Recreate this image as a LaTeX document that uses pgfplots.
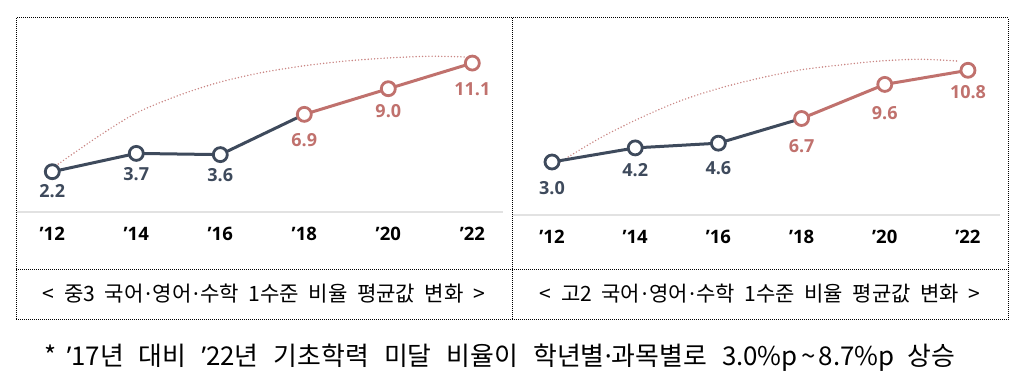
\documentclass[border=0pt]{standalone}
\usepackage{pgfplots}
\pgfplotsset{compat=1.18}
\usepackage{fontspec}
\setmainfont{Noto Sans CJK KR}
\newfontfamily\numfont{Open Sans}
\newfontfamily\latfont{Noto Sans}
\definecolor{navy}{HTML}{3E4A5C}
\definecolor{rose}{HTML}{C0716D}
\definecolor{arc}{HTML}{C98583}
\definecolor{base}{HTML}{E2E2E2}

\pgfplotstableread{
x y dy
0 2.2 19
1 3.7 21
2 3.6 20
}\leftnavy
\pgfplotstableread{
x y dy
3 6.9 26
4 9.0 22
5 11.1 26
}\leftrose
\pgfplotstableread{
x y dy
0 3.0 26
1 4.2 22
2 4.6 25
}\rightnavy
\pgfplotstableread{
x y dy
3 6.7 28
4 9.6 29
5 10.8 22
}\rightrose

\pgfplotsset{
  panel/.style={
    anchor=south west, scale only axis, clip=false,
    axis x line=bottom, axis y line=none,
    axis line style={draw=base, line width=1.5pt, -},
    xtick={0,...,5},
    xticklabels={’12,’14,’16,’18,’20,’22},
    major tick length=0pt,
    ytick=\empty,
    xticklabel style={anchor=center, yshift=-22pt, text=black,
      font=\numfont\bfseries\fontsize{18.5}{18.5}\selectfont},
  },
  vlabels/.style={
    draw=none, mark=none,
    point meta=y,
    visualization depends on={\thisrow{dy} \as \dy},
    nodes near coords={\pgfmathprintnumber[fixed,fixed zerofill,precision=1,assume math mode=true]{\pgfplotspointmeta}},
    nodes near coords style={anchor=center, yshift=-\dy pt, text=#1,
      font=\numfont\bfseries\fontsize{18}{18}\selectfont},
  },
  arcline/.style={color=arc, line width=1.6pt, line cap=round,
    dash pattern=on 0pt off 3.2pt, smooth, mark=none},
  navyline/.style={color=navy, line width=3pt, mark=*, mark size=7pt,
    mark options={fill=white, line width=2.8pt, draw=navy}},
  roseline/.style={color=rose, line width=3pt, mark=*, mark size=7pt,
    mark options={fill=white, line width=2.8pt, draw=rose}},
}
\newcommand\md{\kern1.5pt{\latfont ·}\kern1.5pt}
\newcommand\ap{{\latfont ’}}

\begin{document}
\begin{tikzpicture}[x=1pt,y=1pt]
\path (0,0) rectangle (1026,383);
% table borders
\begin{scope}[line width=1pt, dash pattern=on 1pt off 1pt]
\draw (16,365) rectangle (1008,63);
\draw (512,365) -- (512,63);
\draw (16,113) -- (1008,113);
\end{scope}

% left panel
\begin{axis}[panel, at={(17pt,171pt)}, width=486.4pt, height=182pt,
  xmin=-0.42, xmax=5.37, ymin=-1.1, ymax=13.81]
\addplot[arcline] coordinates {(0.071,2.83) (0.571,5.20) (1.012,7.05) (1.524,8.50) (2.0,9.55) (2.5,10.33) (3.0,10.88) (3.5,11.27) (4.0,11.52) (4.5,11.66) (4.917,11.60)};
\addplot[navyline, mark indices={1,2,3}] coordinates {(0,2.2) (1,3.7) (2,3.6) (3,6.9)};
\addplot[roseline] coordinates {(3,6.9) (4,9.0) (5,11.1)};
\addplot[vlabels=navy] table {\leftnavy};
\addplot[vlabels=rose] table {\leftrose};
\end{axis}

% right panel
\begin{axis}[panel, at={(513pt,168pt)}, width=487pt, height=185pt,
  xmin=-0.469, xmax=5.385, ymin=-1.51, ymax=14.23]
\addplot[arcline] coordinates {(0.096,3.00) (0.577,5.04) (1.058,6.74) (1.538,8.19) (2.019,9.29) (2.5,10.14) (2.981,10.83) (3.462,11.25) (3.942,11.59) (4.423,11.74) (4.868,11.59)};
\addplot[navyline, mark indices={1,2,3}] coordinates {(0,3.0) (1,4.2) (2,4.6) (3,6.7)};
\addplot[roseline] coordinates {(3,6.7) (4,9.6) (5,10.8)};
\addplot[vlabels=navy] table {\rightnavy};
\addplot[vlabels=rose] table {\rightrose};
\end{axis}

% captions
\node[anchor=base, inner sep=0pt] at (264,81) {\resizebox{442pt}{!}{\fontsize{20}{20}\selectfont\spaceskip=9pt\relax < 중3 국어\md 영어\md 수학 1수준 비율 평균값 변화 >}};
\node[anchor=base, inner sep=0pt] at (760,81) {\resizebox{440pt}{!}{\fontsize{20}{20}\selectfont\spaceskip=9pt\relax < 고2 국어\md 영어\md 수학 1수준 비율 평균값 변화 >}};
% note
\node[anchor=base, inner sep=0pt] at (500,17) {\resizebox{910pt}{!}{\fontsize{24}{24}\selectfont\spaceskip=14pt\relax *\kern9pt\ap 17년 대비 \ap 22년 기초학력 미달 비율이 학년별{\latfont ·}과목별로 3.0\%p\kern3pt\textasciitilde\kern3pt 8.7\%p\hspace{12pt}상승}};
\end{tikzpicture}
\end{document}
